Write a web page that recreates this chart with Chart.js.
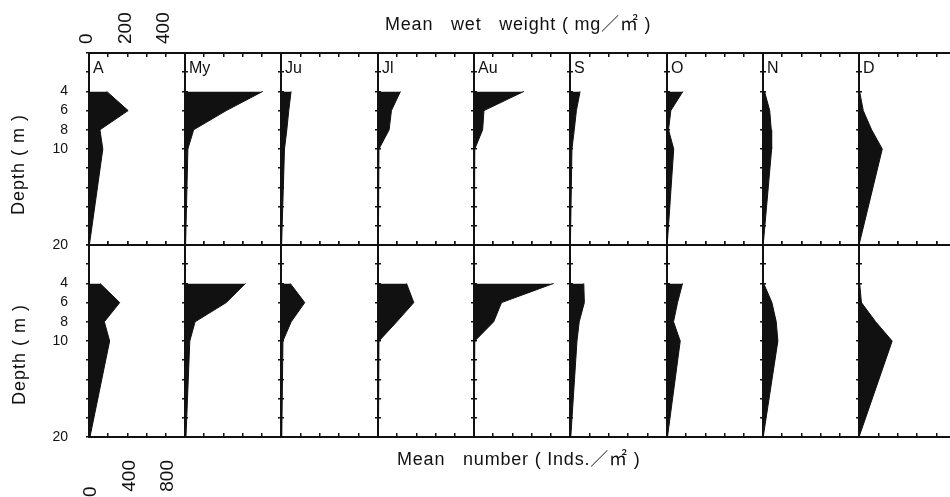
<!DOCTYPE html>
<html>
<head>
<meta charset="utf-8">
<script src="https://cdn.jsdelivr.net/npm/chart.js@4.4.1/dist/chart.umd.min.js"></script>
<style>
body{margin:0;width:950px;height:497px;overflow:hidden;background:#fff;position:relative;
  font-family:"Liberation Sans","Noto Sans CJK KR",sans-serif;color:#111}
canvas{position:absolute}
.txt{position:absolute;white-space:pre;line-height:20px}
.panel{font-size:16px}
.title{font-size:18px;letter-spacing:0.8px;word-spacing:12px}
.title span{word-spacing:0}
.depth{font-size:18px;letter-spacing:1px;transform-origin:0 0;transform:rotate(-90deg)}
</style>
</head>
<body>
<div id="wrap"></div>
<script>
// months of the survey, one panel per month
const months = ['A','My','Ju','Jl','Au','S','O','N','D'];
// sampled depths (m)
const depths = [4, 6, 8, 10, 20];

// mean wet weight (mg/m2) at each depth
const weightA  = [92, 204, 57, 72, 2];
const weightMy = [405, 215, 45, 15, 3];
const weightJu = [52, 40, 30, 18, 3];
const weightJl = [117, 70, 58, 5, 2];
const weightAu = [260, 52, 45, 4, 2];
const weightS  = [52, 33, 22, 10, 2];
const weightO  = [83, 20, 8, 35, 1];
const weightN  = [8, 35, 43, 45, 1];
const weightD  = [3, 22, 65, 120, 0];

// mean number (inds./m2) at each depth
const numberA  = [115, 320, 160, 215, 10];
const numberMy = [630, 430, 105, 50, 10];
const numberJu = [95, 245, 105, 20, 8];
const numberJl = [297, 373, 195, 10, 5];
const numberAu = [830, 287, 205, 8, 3];
const numberS  = [142, 148, 95, 72, 8];
const numberO  = [162, 110, 68, 138, 5];
const numberN  = [7, 93, 138, 155, 2];
const numberD  = [7, 25, 172, 342, 0];

const weightSeries = [weightA, weightMy, weightJu, weightJl, weightAu, weightS, weightO, weightN, weightD];
const numberSeries = [numberA, numberMy, numberJu, numberJl, numberAu, numberS, numberO, numberN, numberD];

// tick labels that are written out
const depthLabels = [4, 6, 8, 10, 20];
const weightTicks = [0, 200, 400];
const numberTicks = [0, 400, 800];

// layout of the panel grid
const X0 = 88.6, PW = 96.35;
const ROW_TOP = [53, 245], PH = 192;
const ML = 89, MR = 6, MT = 53, MB = 60, MS = 6;
const INK = '#111';
const FONT = '"Liberation Sans", "Noto Sans CJK KR", sans-serif';

const wrap = document.getElementById('wrap');

function addText(cls, html, left, top) {
  const d = document.createElement('div');
  d.className = 'txt ' + cls;
  d.innerHTML = html;
  d.style.left = left + 'px';
  d.style.top = top + 'px';
  wrap.appendChild(d);
  return d;
}

// fixed axis sizes so that every panel's plot area lands on the grid
function noPad(s) { s.paddingLeft = s.paddingRight = s.paddingTop = s.paddingBottom = 0; }
function fixW(w) { return s => { s.width = w; noPad(s); }; }
function fixH(h) { return s => { s.height = h; noPad(s); }; }

function makePanel(row, col) {
  const left = Math.round(X0 + col * PW);
  const right = Math.round(X0 + (col + 1) * PW);
  const pw = right - left;
  const first = col === 0;
  const top = row === 0 ? ROW_TOP[0] - MT : ROW_TOP[1] - MS;
  const h = row === 0 ? MT + PH + MS : MS + PH + MB;
  const w = ML + pw + MR;

  const cv = document.createElement('canvas');
  cv.width = w; cv.height = h;
  cv.style.left = (left - ML) + 'px';
  cv.style.top = top + 'px';
  wrap.appendChild(cv);

  const vals = row === 0 ? weightSeries[col] : numberSeries[col];
  const xMax = row === 0 ? 500 : 1000;
  const xStep = row === 0 ? 100 : 200;
  const shown = row === 0 ? weightTicks : numberTicks;

  const border = {display: true, color: INK, width: 2};
  const grid = (len) => ({display: true, drawOnChartArea: false, drawTicks: true, tickLength: len, color: INK, lineWidth: 1.5});

  new Chart(cv, {
    type: 'line',
    data: {
      datasets: [{
        data: depths.map((d, i) => ({x: vals[i], y: d})),
        fill: 'origin',
        backgroundColor: INK,
        borderColor: INK,
        borderWidth: 1,
        pointRadius: 0,
        tension: 0
      }]
    },
    options: {
      indexAxis: 'y',
      responsive: false,
      animation: false,
      events: [],
      layout: {padding: 0, autoPadding: false},
      plugins: {legend: {display: false}, tooltip: {enabled: false}},
      scales: {
        x: {
          type: 'linear', position: row === 0 ? 'top' : 'bottom',
          min: 0, max: xMax,
          border: border, grid: grid(-4),
          ticks: {
            display: first, stepSize: xStep, minRotation: 90, maxRotation: 90,
            autoSkip: false,
            padding: row === 0 ? 13 : 27, color: INK,
            labelOffset: row === 0 ? 21 : 2,
            font: {family: FONT, size: 19},
            callback: v => shown.includes(v) ? (row === 1 && v === 0 ? '0     ' : String(v)) : ''
          },
          afterFit: fixH(row === 0 ? MT : MB)
        },
        x2: {
          type: 'linear', position: row === 0 ? 'bottom' : 'top',
          min: 0, max: xMax,
          border: border, grid: grid(row === 0 ? -4 : 4),
          ticks: {display: false, stepSize: xStep},
          afterFit: fixH(MS)
        },
        y: {
          type: 'linear', position: 'left', reverse: true,
          min: 0, max: 20,
          border: border, grid: grid(3),
          ticks: {
            display: first, stepSize: 2, padding: 18, color: INK, autoSkip: false,
            font: {family: FONT, size: 14},
            callback: v => depthLabels.includes(v) ? String(v) : ''
          },
          afterFit: fixW(ML)
        },
        y2: {
          type: 'linear', position: 'right', reverse: true,
          min: 0, max: 20,
          border: border, grid: grid(3),
          ticks: {display: false, stepSize: 2},
          afterFit: fixW(MR)
        }
      }
    }
  });

  if (row === 0) addText('panel', months[col], left + 4, ROW_TOP[0] + 5);
}

for (let r = 0; r < 2; r++) {
  for (let c = 0; c < months.length; c++) makePanel(r, c);
}

// axis titles
addText('title', 'Mean wet weight<span> ( mg／㎡ )</span>', 385, 14);
addText('title', 'Mean number<span> ( Inds.／㎡ )</span>', 397, 449);
addText('depth', 'Depth ( m )', 8, 215);
addText('depth', 'Depth ( m )', 9, 405);
</script>
</body>
</html>
